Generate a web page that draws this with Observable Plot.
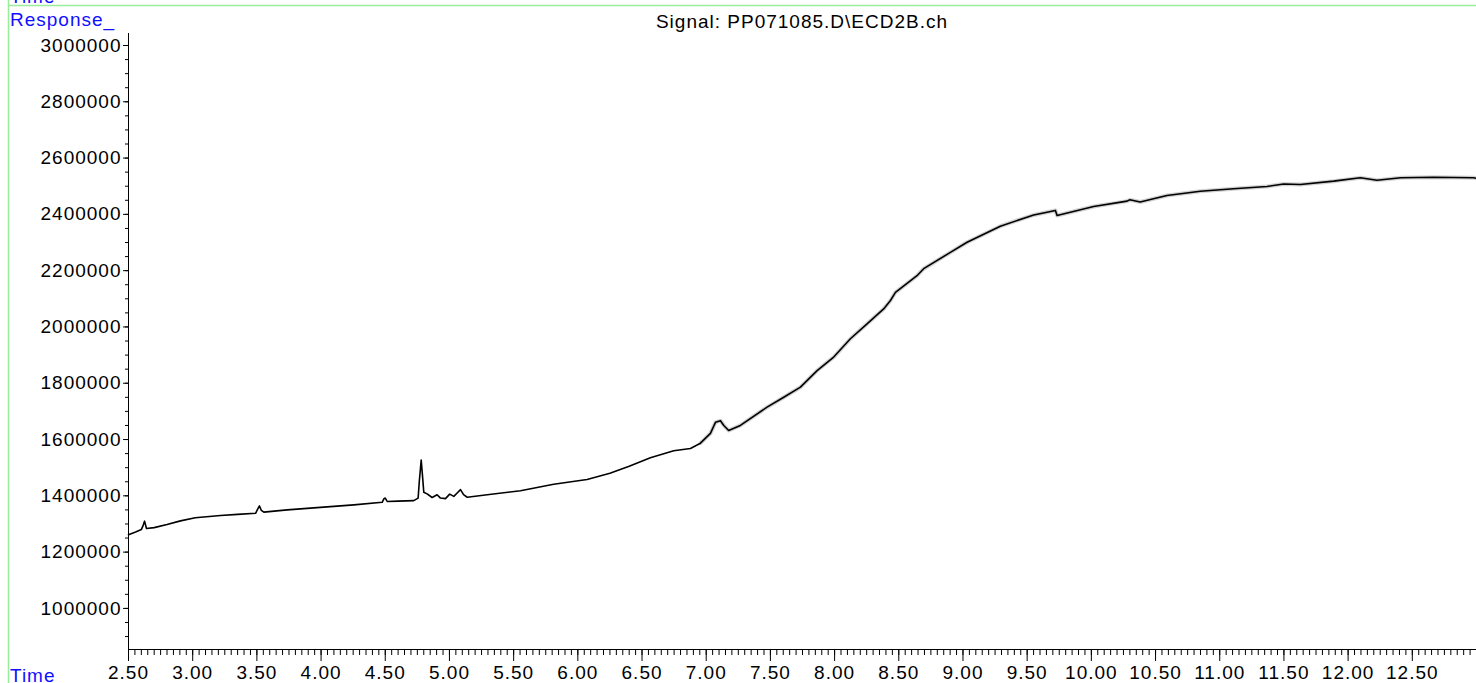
<!DOCTYPE html>
<html>
<head>
<meta charset="utf-8">
<script src="https://cdn.jsdelivr.net/npm/d3@7"></script>
<script src="https://cdn.jsdelivr.net/npm/@observablehq/plot@0.6"></script>
<style>
  html, body { margin: 0; padding: 0; background: #fff; }
  #chart { width: 1476px; height: 683px; overflow: hidden; }
</style>
</head>
<body>
<div id="chart"></div>
<script>
// Retention time (min) and detector response
const times = [
  2.50, 2.56, 2.60, 2.615, 2.625, 2.64, 2.70, 2.80, 2.905, 3.02,
  3.217, 3.35, 3.49, 3.505, 3.52, 3.535, 3.554, 3.736, 3.995, 4.255,
  4.476, 4.49, 4.50, 4.515, 4.60, 4.722, 4.756, 4.765, 4.780, 4.792,
  4.80, 4.826, 4.865, 4.904, 4.93, 4.969, 5.002, 5.034, 5.06, 5.086,
  5.11, 5.138, 5.294, 5.553, 5.812, 6.072, 6.25, 6.40, 6.565, 6.747,
  6.877, 6.955, 7.033, 7.072, 7.111, 7.137, 7.175, 7.266, 7.474, 7.604,
  7.734, 7.864, 7.993, 8.123, 8.253, 8.382, 8.435, 8.474, 8.642, 8.694,
  8.902, 9.032, 9.291, 9.551, 9.72, 9.733, 10.018, 10.278, 10.30, 10.38,
  10.589, 10.849, 11.108, 11.368, 11.498, 11.628, 11.887, 12.095, 12.225, 12.41,
  12.666, 12.977, 13.0
];
const responses = [
  1262000, 1272000, 1280000, 1296000, 1310000, 1284000, 1287000, 1298000, 1311000, 1322000,
  1330000, 1334000, 1338000, 1352000, 1364000, 1348000, 1342000, 1350000, 1359000, 1368000,
  1377000, 1390000, 1392000, 1380000, 1381000, 1383000, 1392000, 1450000, 1527000, 1460000,
  1413000, 1407000, 1394000, 1404000, 1392000, 1390000, 1406000, 1398000, 1410000, 1422000,
  1404000, 1395000, 1404000, 1418000, 1441000, 1458000, 1480000, 1505000, 1535000, 1560000,
  1568000, 1587000, 1622000, 1661000, 1667000, 1650000, 1632000, 1650000, 1715000, 1750000,
  1786000, 1845000, 1893000, 1958000, 2011000, 2064000, 2094000, 2123000, 2182000, 2207000,
  2265000, 2301000, 2358000, 2398000, 2414000, 2396000, 2428000, 2447000, 2452000, 2444000,
  2467000, 2482000, 2491000, 2499000, 2508000, 2506000, 2518000, 2530000, 2521000, 2530000,
  2532000, 2530000, 2528000
];
const xTickValues = [2.5, 3.0, 3.5, 4.0, 4.5, 5.0, 5.5, 6.0, 6.5, 7.0, 7.5, 8.0, 8.5, 9.0, 9.5, 10.0, 10.5, 11.0, 11.5, 12.0, 12.5];
const yTickValues = [1000000, 1200000, 1400000, 1600000, 1800000, 2000000, 2200000, 2400000, 2600000, 2800000, 3000000];
const title = "Signal: PP071085.D\\ECD2B.ch";
const yLabel = "Response_";
const xLabel = "Time";

const data = times.map((t, i) => ({t, v: responses[i]}));
const xMinor = d3.range(0, 211).map(i => 2.5 + i * 0.05).filter(v => v <= 13.0001);
const yMinor = d3.range(0, 45).map(i => 900000 + i * 50000).filter(v => v <= 3040000);

const font = "'Liberation Sans', Arial, sans-serif";

const plot = Plot.plot({
  width: 1476,
  height: 683,
  marginLeft: 128,
  marginRight: 0,
  marginTop: 33,
  marginBottom: 34,
  style: {fontFamily: font, fontSize: "19px", color: "#000", background: "#fff", letterSpacing: "1px"},
  x: {domain: [2.5, 13.0], label: null},
  y: {domain: [854000, 3042600], label: null},
  marks: [
    Plot.axisX(xMinor, {anchor: "bottom", tickSize: 6, text: null, stroke: "#000"}),
    Plot.axisX(xTickValues, {anchor: "bottom", tickSize: 12, tickPadding: 4, tickFormat: d3.format(".2f"), stroke: "#000", fill: "#000"}),
    Plot.axisY(yMinor, {anchor: "left", tickSize: 3, text: null, stroke: "#000"}),
    Plot.axisY(yTickValues, {anchor: "left", tickSize: 5, tickPadding: 2, tickFormat: d3.format("d"), stroke: "#000", fill: "#000"}),
    Plot.ruleY([854000], {stroke: "#000", strokeWidth: 1}),
    Plot.ruleX([2.5], {stroke: "#000", strokeWidth: 1}),
    Plot.line(data.filter(d => d.t >= 6.9), {x: "t", y: "v", stroke: "#999", strokeWidth: 4, strokeOpacity: 0.45}),
    Plot.line(data, {x: "t", y: "v", stroke: "#000", strokeWidth: 1.6})
  ]
});

document.getElementById("chart").appendChild(plot);

const svg = d3.select(plot);
const g = svg.append("g")
  .attr("font-family", font)
  .attr("font-size", 19)
  .attr("letter-spacing", "1px")
  .attr("text-anchor", "start");
g.append("line").attr("x1", 8).attr("x2", 1476).attr("y1", 5.5).attr("y2", 5.5).attr("stroke", "#99ee99").attr("stroke-width", 1.5);
g.append("line").attr("x1", 8.5).attr("x2", 8.5).attr("y1", 0).attr("y2", 683).attr("stroke", "#99ee99").attr("stroke-width", 1.5);
g.append("text").attr("x", 10).attr("y", 2.5).attr("text-anchor", "start").attr("fill", "#1010ff").text(xLabel);
g.append("text").attr("x", 10).attr("y", 26).attr("text-anchor", "start").attr("fill", "#1010ff").text(yLabel);
g.append("text").attr("x", 10).attr("y", 681.5).attr("text-anchor", "start").attr("fill", "#1010ff").text(xLabel);
g.append("text").attr("x", 802).attr("y", 28).attr("text-anchor", "middle").attr("fill", "#000").text(title);
</script>
</body>
</html>
